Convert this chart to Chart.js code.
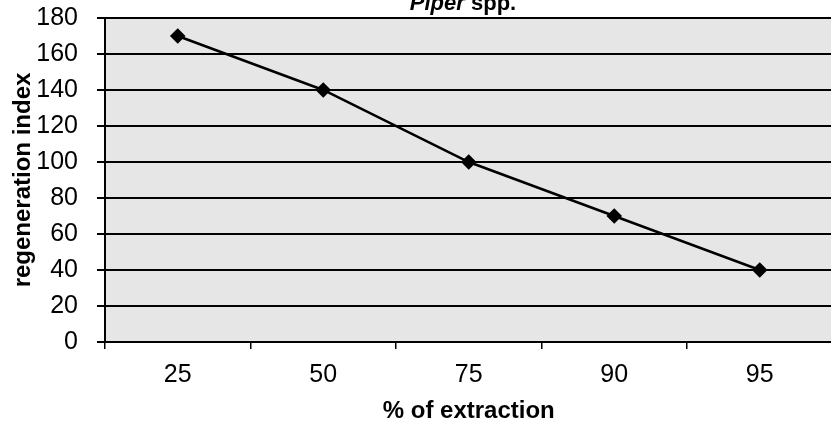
<!DOCTYPE html>
<html>
<head>
<meta charset="utf-8">
<script src="https://cdn.jsdelivr.net/npm/chart.js@4/dist/chart.umd.min.js"></script>
<style>
  html,body{margin:0;padding:0;background:#fff;overflow:hidden}
  #wrap{width:841px;height:429px}
</style>
</head>
<body>
<div id="wrap"><canvas id="c" width="841" height="429"></canvas></div>
<script>
const categories = ["25", "50", "75", "90", "95"];
const regenIndex = [170, 140, 100, 70, 40];
const yTicks = [0, 20, 40, 60, 80, 100, 120, 140, 160, 180];

const FONT = "'Liberation Sans', Arial, sans-serif";

// gray plot background + cut-off title at the top
const plotBg = {
  id: "plotBg",
  beforeDraw(chart){
    const {ctx, chartArea:a} = chart;
    ctx.save();
    ctx.fillStyle = "#e6e6e6";
    ctx.fillRect(a.left, a.top, a.right - a.left, a.bottom - a.top);
    ctx.restore();
  },
  afterDraw(chart){
    const ctx = chart.ctx;
    ctx.save();
    ctx.fillStyle = "#000";
    ctx.textBaseline = "alphabetic";
    const f1 = "italic bold 22px " + FONT;
    const f2 = "bold 22px " + FONT;
    ctx.font = f1; const w1 = ctx.measureText("Piper").width;
    ctx.font = f2; const w2 = ctx.measureText(" spp.").width;
    const x0 = 463 - (w1 + w2) / 2;
    ctx.font = f1; ctx.fillText("Piper", x0, 10);
    ctx.font = f2; ctx.fillText(" spp.", x0 + w1, 10);
    ctx.restore();
  }
};

new Chart(document.getElementById("c"), {
  type: "line",
  data: {
    labels: categories,
    datasets: [{
      data: regenIndex,
      borderColor: "#000",
      backgroundColor: "#000",
      borderWidth: 2.5,
      tension: 0,
      pointStyle: "rectRot",
      pointRadius: 6,
      pointBackgroundColor: "#000",
      pointBorderColor: "#000"
    }]
  },
  options: {
    responsive: false,
    animation: false,
    layout: { padding: { top: 18, right: 0, left: 0, bottom: 0 } },
    plugins: { legend: { display: false }, tooltip: { enabled: false } },
    scales: {
      x: {
        offset: true,
        afterFit(s){ s.height = 87; s.paddingLeft = 0; s.paddingRight = 0; },
        grid: { offset: true, drawOnChartArea: false, drawTicks: true, tickLength: 7, color: "#000", lineWidth: 1.5 },
        border: { color: "#000", width: 2 },
        ticks: { color: "#000", padding: 11, font: { size: 25, family: FONT } },
        title: { display: true, text: "% of extraction", color: "#000", padding: { top: 0, bottom: 3 },
                 font: { size: 24, weight: "bold", family: FONT } }
      },
      y: {
        min: 0, max: 180,
        afterFit(s){ s.width = 105; s.paddingTop = 0; s.paddingBottom = 0; },
        afterBuildTicks(s){ s.ticks = yTicks.map(v => ({ value: v })); },
        grid: { color: "#000", lineWidth: 2, tickLength: 8 },
        border: { color: "#000", width: 2 },
        ticks: { color: "#000", padding: 19, font: { size: 25, family: FONT } },
        title: { display: true, text: "regeneration index", color: "#000", padding: { top: 9, bottom: 0 },
                 font: { size: 24, weight: "bold", family: FONT } }
      }
    }
  },
  plugins: [plotBg]
});
</script>
</body>
</html>
